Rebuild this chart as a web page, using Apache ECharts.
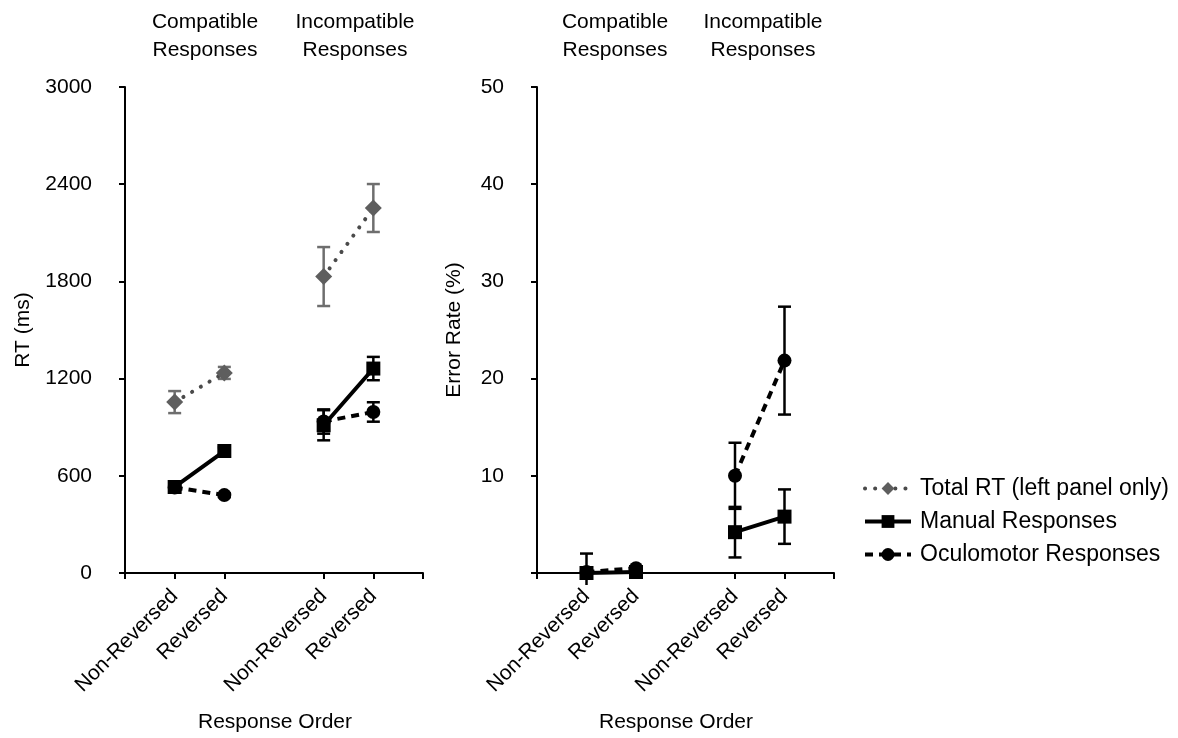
<!DOCTYPE html>
<html>
<head>
<meta charset="utf-8">
<script src="https://cdn.jsdelivr.net/npm/echarts@6/dist/echarts.min.js"></script>
<style>
  html, body { margin: 0; padding: 0; background: #fff; }
  #chart { width: 1178px; height: 738px; }
</style>
</head>
<body>
<div id="chart"></div>
<script>
// slots: empty edge, two compatible, gap, two incompatible, empty edge
const categories = ['', 'Non-Reversed', 'Reversed', '', 'Non-Reversed', 'Reversed', '']

// left panel, RT (ms)
const rtTotal = ['-', 1055, 1235, '-', 1830, 2253, '-']
const rtTotalErr = [0, 68, 37, 0, 182, 148, 0]
const rtManual = ['-', 531, 753, '-', 912, 1262, '-']
const rtManualErr = [0, 20, 22, 0, 93, 72, 0]
const rtOculo = ['-', 528, 481, '-', 935, 994, '-']
const rtOculoErr = [0, 14, 12, 0, 75, 60, 0]

// right panel, error rate (%)
const erManual = ['-', 0, 0.1, '-', 4.2, 5.8, '-']
const erManualErr = [0, 2.0, 0.3, 0, 2.6, 2.8, 0]
const erOculo = ['-', 0.1, 0.5, '-', 10.0, 21.85, '-']
const erOculoErr = [0, 0.2, 0.2, 0, 3.4, 5.55, 0]

const FONT = 'Liberation Sans'
const GREY = '#5e5e5e'

let myChart = echarts.init(document.getElementById('chart'))

const errorBars = (name, gi, means, errs, color) => {
  let data = []
  means.forEach((m, i) => {
    if (m !== '-') data.push([i, m - errs[i], m + errs[i]])
  })
  return {
    type: 'custom',
    name: name,
    xAxisIndex: gi,
    yAxisIndex: gi,
    data: data,
    z: 1,
    silent: true,
    renderItem: function (params, api) {
      const top = api.coord([api.value(0), api.value(2)])
      let bot = api.coord([api.value(0), api.value(1)])
      const floor = params.coordSys.y + params.coordSys.height + 12
      const clipped = bot[1] > floor
      if (clipped) bot = [bot[0], floor]
      const w = 6.5
      const style = { stroke: color, lineWidth: 2.5 }
      let children = [
        { type: 'line', shape: { x1: top[0], y1: top[1], x2: bot[0], y2: bot[1] }, style: style },
        { type: 'line', shape: { x1: top[0] - w, y1: top[1], x2: top[0] + w, y2: top[1] }, style: style }
      ]
      if (!clipped) {
        children.push({ type: 'line', shape: { x1: bot[0] - w, y1: bot[1], x2: bot[0] + w, y2: bot[1] }, style: style })
      }
      return { type: 'group', children: children }
    }
  }
}

const xAxisFor = (gi) => ({
  type: 'category',
  gridIndex: gi,
  data: categories,
  boundaryGap: false,
  axisLine: { show: true, lineStyle: { color: '#000', width: 2 } },
  axisTick: {
    show: true,
    length: 6,
    interval: (i) => i !== 3,
    lineStyle: { color: '#000', width: 2 }
  },
  axisLabel: {
    interval: (i, v) => v !== '',
    rotate: 45,
    margin: 20,
    color: '#000',
    fontFamily: FONT,
    fontSize: 21
  },
  splitLine: { show: false }
})

const yAxisFor = (gi, max, interval, name, gap, hideZero) => ({
  type: 'value',
  gridIndex: gi,
  min: 0,
  max: max,
  interval: interval,
  name: name,
  nameLocation: 'middle',
  nameGap: gap,
  nameTextStyle: { color: '#000', fontFamily: FONT, fontSize: 21 },
  axisLine: { show: true, lineStyle: { color: '#000', width: 2 } },
  axisTick: { show: true, length: 6, lineStyle: { color: '#000', width: 2 } },
  axisLabel: {
    margin: 33,
    color: '#000',
    fontFamily: FONT,
    fontSize: 21,
    formatter: (v) => (hideZero && v === 0 ? '' : String(v))
  },
  splitLine: { show: false }
})

const lineSeries = (name, gi, data, kind) => {
  let s = {
    type: 'line',
    name: name,
    xAxisIndex: gi,
    yAxisIndex: gi,
    data: data,
    connectNulls: false,
    z: 3
  }
  if (kind === 'total') {
    s.symbol = 'diamond'
    s.symbolSize = 17
    s.itemStyle = { color: GREY }
    s.lineStyle = { color: '#4a4a4a', width: 4, type: [0.1, 10], cap: 'round' }
  } else if (kind === 'manual') {
    s.symbol = 'rect'
    s.symbolSize = 14
    s.itemStyle = { color: '#000' }
    s.lineStyle = { color: '#000', width: 4, type: 'solid' }
  } else {
    s.symbol = 'circle'
    s.symbolSize = 14
    s.itemStyle = { color: '#000' }
    s.lineStyle = { color: '#000', width: 4, type: [8, 6] }
  }
  return s
}

const titleText = (x, y, text) => ({
  type: 'text',
  x: x,
  y: y,
  style: {
    text: text,
    fill: '#000',
    font: '21px "' + FONT + '"',
    align: 'center',
    verticalAlign: 'middle',
    lineHeight: 28
  }
})

let option = {
  animation: false,
  backgroundColor: '#fff',
  grid: [
    { left: 125, top: 87, width: 298, height: 486 },
    { left: 537, top: 87, width: 297, height: 486 }
  ],
  xAxis: [xAxisFor(0), xAxisFor(1)],
  yAxis: [
    yAxisFor(0, 3000, 600, 'RT (ms)', 91, false),
    yAxisFor(1, 50, 10, 'Error Rate (%)', 72, true)
  ],
  legend: {
    orient: 'vertical',
    left: 858,
    top: 472,
    itemWidth: 46,
    itemHeight: 16,
    itemGap: 10,
    data: ['Total RT (left panel only)', 'Manual Responses', 'Oculomotor Responses'],
    lineStyle: { width: 4 },
    textStyle: { color: '#000', fontFamily: FONT, fontSize: 23, padding: [0, 0, 0, 4] }
  },
  graphic: [
    titleText(205, 36, 'Compatible\nResponses'),
    titleText(355, 36, 'Incompatible\nResponses'),
    titleText(615, 36, 'Compatible\nResponses'),
    titleText(763, 36, 'Incompatible\nResponses'),
    titleText(275, 722, 'Response Order'),
    titleText(676, 722, 'Response Order')
  ],
  series: [
    errorBars('Total RT err', 0, rtTotal, rtTotalErr, '#6e6e6e'),
    errorBars('Manual RT err', 0, rtManual, rtManualErr, '#000'),
    errorBars('Oculo RT err', 0, rtOculo, rtOculoErr, '#000'),
    errorBars('Manual ER err', 1, erManual, erManualErr, '#000'),
    errorBars('Oculo ER err', 1, erOculo, erOculoErr, '#000'),
    lineSeries('Total RT (left panel only)', 0, rtTotal, 'total'),
    lineSeries('Oculomotor Responses', 0, rtOculo, 'oculo'),
    lineSeries('Manual Responses', 0, rtManual, 'manual'),
    lineSeries('Oculomotor Responses', 1, erOculo, 'oculo'),
    lineSeries('Manual Responses', 1, erManual, 'manual')
  ]
}

myChart.setOption(option)
window.addEventListener('resize', () => myChart.resize())
</script>
</body>
</html>
